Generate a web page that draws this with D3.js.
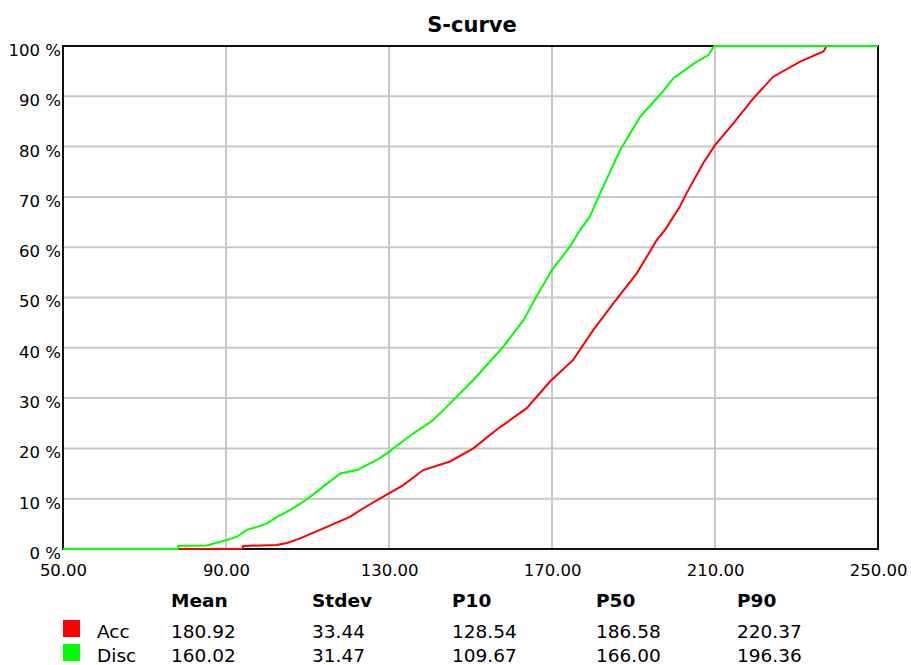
<!DOCTYPE html>
<html>
<head>
<meta charset="utf-8">
<script src="https://cdn.jsdelivr.net/npm/d3@7"></script>
<style>
  html, body { margin: 0; padding: 0; background: #ffffff; }
  svg { display: block; font-family: "DejaVu Sans", sans-serif; }
</style>
</head>
<body>
<svg id="chart" width="911" height="665"></svg>
<script>
// Cumulative probability (%) against value for each series
const accX = [50, 94.0, 94.2, 102.4, 105.0, 108.2, 113.9, 120.4, 123.7, 128.6, 133.5, 138.4, 145.0, 150.7, 156.4, 163.8, 169.5, 175.2, 180.1, 185.0, 190.8, 195.7, 197.7, 201.4, 203.0, 207.1, 210.0, 214.5, 219.4, 224.3, 230.9, 236.6, 237.4, 250];
const accP = [0, 0, 0.6, 0.8, 1.2, 2.1, 4.1, 6.4, 8.1, 10.4, 12.7, 15.7, 17.4, 20.0, 23.7, 28.0, 33.3, 37.6, 43.5, 48.8, 54.8, 61.4, 63.4, 68.1, 70.7, 76.7, 80.3, 84.6, 89.6, 93.9, 96.9, 98.9, 100, 100];

const discX = [50, 78.2, 78.3, 85.3, 90.2, 92.6, 95.1, 97.6, 100.1, 102.5, 105.8, 109.0, 112.3, 118.0, 122.2, 127.0, 130.2, 131.0, 136.0, 140.8, 144.2, 150.7, 158.0, 163.0, 166.2, 170.0, 174.4, 176.9, 179.3, 181.8, 186.7, 191.6, 196.5, 199.8, 205.5, 208.4, 209.8, 250];
const discP = [0, 0, 0.6, 0.7, 1.8, 2.4, 3.8, 4.4, 5.1, 6.4, 7.8, 9.4, 11.4, 15.0, 15.7, 17.7, 19.4, 20.0, 23.0, 25.6, 28.3, 33.6, 40.2, 45.5, 50.2, 55.5, 60.1, 63.4, 66.1, 70.7, 79.3, 85.9, 90.3, 93.6, 96.9, 98.2, 100, 100];

const seriesNames = ["Acc", "Disc"];
const seriesColors = ["#ff0000", "#00ff00"];

// Summary statistics table
const statHeaders = ["Mean", "Stdev", "P10", "P50", "P90"];
const accStats = ["180.92", "33.44", "128.54", "186.58", "220.37"];
const discStats = ["160.02", "31.47", "109.67", "166.00", "196.36"];

const xTicks = [50, 90, 130, 170, 210, 250];
const yTicks = [0, 10, 20, 30, 40, 50, 60, 70, 80, 90, 100];

const svg = d3.select("#chart");
const W = 911, H = 665;
const m = { left: 63, right: 33, top: 46, bottom: 116 };
const pw = W - m.left - m.right, ph = H - m.top - m.bottom;

const x = d3.scaleLinear().domain([50, 250]).range([m.left, m.left + pw]);
const y = d3.scaleLinear().domain([0, 100]).range([m.top + ph, m.top]);

// Title
svg.append("text")
  .attr("x", 472).attr("y", 32)
  .attr("text-anchor", "middle")
  .attr("font-size", 21).attr("font-weight", "bold")
  .attr("fill", "#000")
  .text("S-curve");

// Grid
const grid = svg.append("g");
grid.selectAll("line.v").data(xTicks.slice(1, -1)).join("line")
  .attr("x1", d => x(d)).attr("x2", d => x(d))
  .attr("y1", m.top).attr("y2", m.top + ph)
  .attr("stroke", "#c8c8c8").attr("stroke-width", 2);
grid.selectAll("line.h").data(yTicks.slice(1, -1)).join("line")
  .attr("y1", d => y(d)).attr("y2", d => y(d))
  .attr("x1", m.left).attr("x2", m.left + pw)
  .attr("stroke", "#c8c8c8").attr("stroke-width", 2);

// Frame
svg.append("rect")
  .attr("x", m.left).attr("y", m.top).attr("width", pw).attr("height", ph)
  .attr("fill", "none").attr("stroke", "#111").attr("stroke-width", 2);

// Axes
const xAxis = svg.append("g")
  .attr("transform", `translate(0,${m.top + ph})`)
  .call(d3.axisBottom(x).tickValues(xTicks).tickSize(0).tickPadding(15).tickFormat(d3.format(".2f")));
const yAxis = svg.append("g")
  .attr("transform", `translate(${m.left},0)`)
  .call(d3.axisLeft(y).tickValues(yTicks).tickSize(0).tickPadding(2).tickFormat(d => d + " %"));
[xAxis, yAxis].forEach(a => {
  a.select(".domain").remove();
  a.selectAll("text").attr("font-size", 16.5).attr("font-family", "DejaVu Sans, sans-serif").attr("fill", "#000");
});
yAxis.selectAll("text").attr("dy", "0.57em");

// Curves
const line = d3.line().x(d => x(d[0])).y(d => y(d[1]));
const series = [d3.zip(accX, accP), d3.zip(discX, discP)];
series.forEach((pts, i) => {
  svg.append("path")
    .datum(pts)
    .attr("d", line)
    .attr("fill", "none")
    .attr("stroke", seriesColors[i])
    .attr("stroke-width", 2)
    .attr("stroke-linejoin", "miter");
});

// Statistics legend
const colX = [171, 312, 452, 596, 737];
const leg = svg.append("g").attr("font-size", 18.5).attr("fill", "#000");
leg.selectAll("text.h").data(statHeaders).join("text")
  .attr("x", (d, i) => colX[i]).attr("y", 607)
  .attr("font-weight", "bold")
  .text(d => d);
const rows = [accStats, discStats];
const rowY = [638, 662];
rows.forEach((vals, r) => {
  leg.append("rect")
    .attr("x", 63).attr("y", rowY[r] - 18).attr("width", 17).attr("height", 17)
    .attr("fill", seriesColors[r]);
  leg.append("text").attr("x", 97).attr("y", rowY[r]).text(seriesNames[r]);
  leg.selectAll(null).data(vals).join("text")
    .attr("x", (d, i) => colX[i]).attr("y", rowY[r])
    .text(d => d);
});
</script>
</body>
</html>
